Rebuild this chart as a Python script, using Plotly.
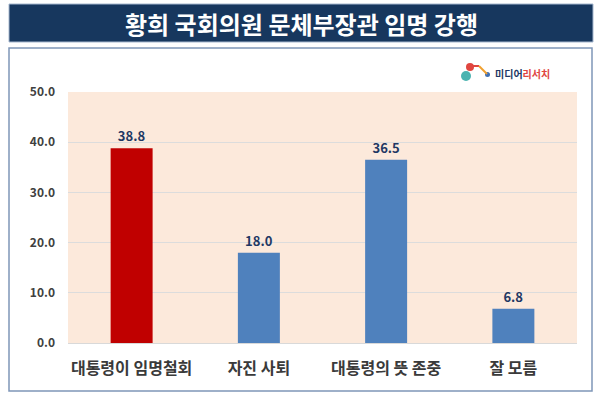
import plotly.graph_objects as go

categories = ["대통령이 임명철회", "자진 사퇴", "대통령의 뜻 존중", "잘 모름"]
values = [38.8, 18.0, 36.5, 6.8]
bar_colors = ["#C00000", "#4F81BD", "#4F81BD", "#4F81BD"]
tick_vals = [0, 10, 20, 30, 40, 50]
tick_text = ["0.0", "10.0", "20.0", "30.0", "40.0", "50.0"]
title_text = "황희 국회의원 문체부장관 임명 강행"

W, H = 600, 398
ML, MR, MT, MB = 68, 23, 92, 55
PW, PH = W - ML - MR, H - MT - MB

fig = go.Figure()
fig.add_trace(go.Bar(
    x=categories, y=values,
    marker=dict(color=bar_colors, line=dict(width=0)),
    width=0.33,
    text=[f"{v:.1f}" for v in values],
    textposition="outside",
    textfont=dict(family="Noto Sans CJK KR", size=13, color="#1F3864", weight="bold"),
    cliponaxis=False,
    hoverinfo="skip",
))

def px_x(x):
    return (x - ML) / PW

def px_y(y):
    return (H - MB - y) / PH

shapes = [
    # title banner
    dict(type="rect", xref="paper", yref="paper",
         x0=px_x(9), x1=px_x(593), y0=px_y(42), y1=px_y(4),
         fillcolor="#17375E", line=dict(color="#A6B8CF", width=1), layer="below"),
    # outer box
    dict(type="rect", xref="paper", yref="paper",
         x0=px_x(9), x1=px_x(592), y0=px_y(391), y1=px_y(48),
         fillcolor="rgba(0,0,0,0)", line=dict(color="#7F96B8", width=1.5), layer="below"),
    # logo circles
    dict(type="circle", xref="paper", yref="paper",
         x0=px_x(461), x1=px_x(471), y0=px_y(81), y1=px_y(71),
         fillcolor="#4BB3B0", line=dict(width=0)),
    dict(type="circle", xref="paper", yref="paper",
         x0=px_x(466), x1=px_x(474), y0=px_y(71), y1=px_y(63),
         fillcolor="#E0463F", line=dict(width=0)),
    dict(type="circle", xref="paper", yref="paper",
         x0=px_x(485), x1=px_x(490), y0=px_y(77), y1=px_y(72),
         fillcolor="#3E6FB5", line=dict(width=0)),
    dict(type="line", xref="paper", yref="paper",
         x0=px_x(472), x1=px_x(479), y0=px_y(66), y1=px_y(66),
         line=dict(color="#E0463F", width=2)),
    dict(type="line", xref="paper", yref="paper",
         x0=px_x(479), x1=px_x(487), y0=px_y(66), y1=px_y(74),
         line=dict(color="#F0A030", width=2)),
]

annotations = [
    dict(text=f"<b>{title_text}</b>", xref="paper", yref="paper",
         x=px_x(301), y=px_y(23), xanchor="center", yanchor="middle", showarrow=False,
         font=dict(family="Noto Sans CJK KR", size=24, color="white")),
    dict(text="<b>미디어</b><span style='color:#E0463F'><b>리서치</b></span>",
         xref="paper", yref="paper",
         x=px_x(493), y=px_y(73), xanchor="left", yanchor="middle", showarrow=False,
         font=dict(family="Noto Sans CJK KR", size=10, color="#1F3864")),
]

fig.update_layout(
    width=W, height=H,
    margin=dict(l=ML, r=MR, t=MT, b=MB),
    paper_bgcolor="white",
    plot_bgcolor="#FCE9DB",
    showlegend=False,
    shapes=shapes,
    annotations=annotations,
    font=dict(family="Noto Sans CJK KR"),
    xaxis=dict(
        showgrid=False, showline=True, linecolor="#D9D9D9", linewidth=1,
        ticks="", tickfont=dict(family="Noto Sans CJK KR", size=16, color="#3A3A3A", weight="bold"),
        ticklabelstandoff=11,
    ),
    yaxis=dict(
        range=[0, 50], tickvals=tick_vals, ticktext=tick_text,
        showgrid=True, gridcolor="#DCDCDC", gridwidth=1,
        zeroline=False, showline=False, ticks="",
        tickfont=dict(family="Noto Sans CJK KR", size=12, color="#404040", weight="bold"),
        ticklabelstandoff=12,
    ),
)

fig.write_html(
    "out.html",
    config={"displayModeBar": False},
    post_script="document.body.style.margin='0';document.body.style.overflow='hidden';",
)
